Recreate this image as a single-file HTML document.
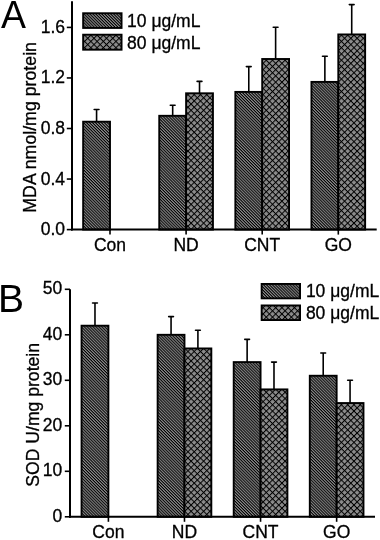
<!DOCTYPE html>
<html><head><meta charset="utf-8"><style>
html,body{margin:0;padding:0;background:#fff;}
body{width:380px;height:540px;overflow:hidden;}
svg{display:block;filter:grayscale(1);}
text{font-family:"Liberation Sans", sans-serif;fill:#000;stroke:#000;stroke-width:0.3px;}
</style></head><body>
<svg width="380" height="540" viewBox="0 0 380 540">
<defs>
<pattern id="ph" patternUnits="userSpaceOnUse" width="2.086" height="2.086" patternTransform="rotate(45)">
<rect width="2.086" height="2.086" fill="#8c8c8c"/><rect width="2.086" height="1.0" fill="#000"/>
</pattern>
<pattern id="pc" patternUnits="userSpaceOnUse" width="4.43" height="4.43" patternTransform="rotate(45)">
<rect width="4.43" height="4.43" fill="#8c8c8c"/><rect width="4.43" height="1.0" fill="#000"/><rect width="1.0" height="4.43" fill="#000"/>
</pattern>
</defs>
<rect width="380" height="540" fill="#fff"/>
<rect x="83.15" y="121.70" width="26.85" height="107.90" fill="url(#ph)" stroke="#000" stroke-width="1.9"/>
<line x1="96.58" y1="121.70" x2="96.58" y2="109.50" stroke="#000" stroke-width="1.6"/>
<line x1="94.17" y1="109.50" x2="98.98" y2="109.50" stroke="#000" stroke-width="1.6" stroke-linecap="round"/>
<rect x="159.25" y="115.80" width="26.85" height="113.80" fill="url(#ph)" stroke="#000" stroke-width="1.9"/>
<line x1="172.68" y1="115.80" x2="172.68" y2="105.30" stroke="#000" stroke-width="1.6"/>
<line x1="170.28" y1="105.30" x2="175.08" y2="105.30" stroke="#000" stroke-width="1.6" stroke-linecap="round"/>
<rect x="186.10" y="93.30" width="26.85" height="136.30" fill="url(#pc)" stroke="#000" stroke-width="1.9"/>
<line x1="199.52" y1="93.30" x2="199.52" y2="81.40" stroke="#000" stroke-width="1.6"/>
<line x1="197.12" y1="81.40" x2="201.92" y2="81.40" stroke="#000" stroke-width="1.6" stroke-linecap="round"/>
<rect x="235.35" y="91.90" width="26.85" height="137.70" fill="url(#ph)" stroke="#000" stroke-width="1.9"/>
<line x1="248.77" y1="91.90" x2="248.77" y2="66.60" stroke="#000" stroke-width="1.6"/>
<line x1="246.37" y1="66.60" x2="251.17" y2="66.60" stroke="#000" stroke-width="1.6" stroke-linecap="round"/>
<rect x="262.20" y="59.00" width="26.85" height="170.60" fill="url(#pc)" stroke="#000" stroke-width="1.9"/>
<line x1="275.62" y1="59.00" x2="275.62" y2="27.20" stroke="#000" stroke-width="1.6"/>
<line x1="273.23" y1="27.20" x2="278.02" y2="27.20" stroke="#000" stroke-width="1.6" stroke-linecap="round"/>
<rect x="311.45" y="81.90" width="26.85" height="147.70" fill="url(#ph)" stroke="#000" stroke-width="1.9"/>
<line x1="324.87" y1="81.90" x2="324.87" y2="56.20" stroke="#000" stroke-width="1.6"/>
<line x1="322.47" y1="56.20" x2="327.27" y2="56.20" stroke="#000" stroke-width="1.6" stroke-linecap="round"/>
<rect x="338.30" y="34.45" width="26.85" height="195.15" fill="url(#pc)" stroke="#000" stroke-width="1.9"/>
<line x1="351.72" y1="34.45" x2="351.72" y2="4.60" stroke="#000" stroke-width="1.6"/>
<line x1="349.32" y1="4.60" x2="354.12" y2="4.60" stroke="#000" stroke-width="1.6" stroke-linecap="round"/>
<line x1="72" y1="1.3" x2="72" y2="230.6" stroke="#000" stroke-width="2.0"/>
<line x1="71.0" y1="229.6" x2="376.7" y2="229.6" stroke="#000" stroke-width="2.0"/>
<line x1="66.8" y1="229.60" x2="72" y2="229.60" stroke="#000" stroke-width="1.6"/>
<text x="65.0" y="235.10" text-anchor="end" font-size="17.5">0.0</text>
<line x1="66.8" y1="179.05" x2="72" y2="179.05" stroke="#000" stroke-width="1.6"/>
<text x="65.0" y="184.55" text-anchor="end" font-size="17.5">0.4</text>
<line x1="66.8" y1="128.50" x2="72" y2="128.50" stroke="#000" stroke-width="1.6"/>
<text x="65.0" y="134.00" text-anchor="end" font-size="17.5">0.8</text>
<line x1="66.8" y1="77.95" x2="72" y2="77.95" stroke="#000" stroke-width="1.6"/>
<text x="65.0" y="83.45" text-anchor="end" font-size="17.5">1.2</text>
<line x1="66.8" y1="27.40" x2="72" y2="27.40" stroke="#000" stroke-width="1.6"/>
<text x="65.0" y="32.90" text-anchor="end" font-size="17.5">1.6</text>
<line x1="110.00" y1="229.6" x2="110.00" y2="234.60" stroke="#000" stroke-width="1.6"/>
<text x="110.00" y="250.5" text-anchor="middle" font-size="17.5">Con</text>
<line x1="186.10" y1="229.6" x2="186.10" y2="234.60" stroke="#000" stroke-width="1.6"/>
<text x="186.10" y="250.5" text-anchor="middle" font-size="17.5">ND</text>
<line x1="262.20" y1="229.6" x2="262.20" y2="234.60" stroke="#000" stroke-width="1.6"/>
<text x="262.20" y="250.5" text-anchor="middle" font-size="17.5">CNT</text>
<line x1="338.30" y1="229.6" x2="338.30" y2="234.60" stroke="#000" stroke-width="1.6"/>
<text x="338.30" y="250.5" text-anchor="middle" font-size="17.5">GO</text>
<rect x="83.15" y="13.25" width="38.40" height="14.70" fill="url(#ph)" stroke="#000" stroke-width="1.9"/>
<text x="127.1" y="26.9" font-size="17.5">10 μg/mL</text>
<rect x="83.15" y="34.70" width="38.40" height="15.00" fill="url(#pc)" stroke="#000" stroke-width="1.9"/>
<text x="127.1" y="48.8" font-size="17.5">80 μg/mL</text>
<text transform="translate(1.1,27.9) scale(0.96,1)" x="0" y="0" font-size="39" style="stroke-width:0">A</text>
<text transform="translate(36.3,127.35) rotate(-90)" text-anchor="middle" font-size="17.75">MDA nmol/mg protein</text>
<rect x="81.55" y="325.70" width="26.85" height="191.10" fill="url(#ph)" stroke="#000" stroke-width="1.9"/>
<line x1="94.98" y1="325.70" x2="94.98" y2="302.95" stroke="#000" stroke-width="1.6"/>
<line x1="92.58" y1="302.95" x2="97.38" y2="302.95" stroke="#000" stroke-width="1.6" stroke-linecap="round"/>
<rect x="157.63" y="334.80" width="26.85" height="182.00" fill="url(#ph)" stroke="#000" stroke-width="1.9"/>
<line x1="171.06" y1="334.80" x2="171.06" y2="316.60" stroke="#000" stroke-width="1.6"/>
<line x1="168.66" y1="316.60" x2="173.46" y2="316.60" stroke="#000" stroke-width="1.6" stroke-linecap="round"/>
<rect x="184.48" y="348.45" width="26.85" height="168.35" fill="url(#pc)" stroke="#000" stroke-width="1.9"/>
<line x1="197.91" y1="348.45" x2="197.91" y2="330.25" stroke="#000" stroke-width="1.6"/>
<line x1="195.51" y1="330.25" x2="200.31" y2="330.25" stroke="#000" stroke-width="1.6" stroke-linecap="round"/>
<rect x="233.71" y="362.10" width="26.85" height="154.70" fill="url(#ph)" stroke="#000" stroke-width="1.9"/>
<line x1="247.13" y1="362.10" x2="247.13" y2="339.35" stroke="#000" stroke-width="1.6"/>
<line x1="244.73" y1="339.35" x2="249.53" y2="339.35" stroke="#000" stroke-width="1.6" stroke-linecap="round"/>
<rect x="260.56" y="389.40" width="26.85" height="127.40" fill="url(#pc)" stroke="#000" stroke-width="1.9"/>
<line x1="273.99" y1="389.40" x2="273.99" y2="362.10" stroke="#000" stroke-width="1.6"/>
<line x1="271.59" y1="362.10" x2="276.38" y2="362.10" stroke="#000" stroke-width="1.6" stroke-linecap="round"/>
<rect x="309.79" y="375.75" width="26.85" height="141.05" fill="url(#ph)" stroke="#000" stroke-width="1.9"/>
<line x1="323.21" y1="375.75" x2="323.21" y2="353.00" stroke="#000" stroke-width="1.6"/>
<line x1="320.81" y1="353.00" x2="325.61" y2="353.00" stroke="#000" stroke-width="1.6" stroke-linecap="round"/>
<rect x="336.64" y="403.05" width="26.85" height="113.75" fill="url(#pc)" stroke="#000" stroke-width="1.9"/>
<line x1="350.06" y1="403.05" x2="350.06" y2="380.30" stroke="#000" stroke-width="1.6"/>
<line x1="347.67" y1="380.30" x2="352.46" y2="380.30" stroke="#000" stroke-width="1.6" stroke-linecap="round"/>
<line x1="70" y1="289.3" x2="70" y2="517.8" stroke="#000" stroke-width="2.0"/>
<line x1="69.0" y1="516.8" x2="375" y2="516.8" stroke="#000" stroke-width="2.0"/>
<line x1="64.8" y1="516.80" x2="70" y2="516.80" stroke="#000" stroke-width="1.6"/>
<text x="62.3" y="521.90" text-anchor="end" font-size="17.5">0</text>
<line x1="64.8" y1="471.30" x2="70" y2="471.30" stroke="#000" stroke-width="1.6"/>
<text x="62.3" y="476.40" text-anchor="end" font-size="17.5">10</text>
<line x1="64.8" y1="425.80" x2="70" y2="425.80" stroke="#000" stroke-width="1.6"/>
<text x="62.3" y="430.90" text-anchor="end" font-size="17.5">20</text>
<line x1="64.8" y1="380.30" x2="70" y2="380.30" stroke="#000" stroke-width="1.6"/>
<text x="62.3" y="385.40" text-anchor="end" font-size="17.5">30</text>
<line x1="64.8" y1="334.80" x2="70" y2="334.80" stroke="#000" stroke-width="1.6"/>
<text x="62.3" y="339.90" text-anchor="end" font-size="17.5">40</text>
<line x1="64.8" y1="289.30" x2="70" y2="289.30" stroke="#000" stroke-width="1.6"/>
<text x="62.3" y="294.40" text-anchor="end" font-size="17.5">50</text>
<line x1="108.40" y1="516.8" x2="108.40" y2="521.80" stroke="#000" stroke-width="1.6"/>
<text x="108.40" y="537.9" text-anchor="middle" font-size="17.5">Con</text>
<line x1="184.48" y1="516.8" x2="184.48" y2="521.80" stroke="#000" stroke-width="1.6"/>
<text x="184.48" y="537.9" text-anchor="middle" font-size="17.5">ND</text>
<line x1="260.56" y1="516.8" x2="260.56" y2="521.80" stroke="#000" stroke-width="1.6"/>
<text x="260.56" y="537.9" text-anchor="middle" font-size="17.5">CNT</text>
<line x1="336.64" y1="516.8" x2="336.64" y2="521.80" stroke="#000" stroke-width="1.6"/>
<text x="336.64" y="537.9" text-anchor="middle" font-size="17.5">GO</text>
<rect x="261.65" y="283.95" width="38.40" height="14.40" fill="url(#ph)" stroke="#000" stroke-width="1.9"/>
<text x="305.9" y="297.3" font-size="17.5">10 μg/mL</text>
<rect x="261.65" y="305.45" width="38.40" height="14.60" fill="url(#pc)" stroke="#000" stroke-width="1.9"/>
<text x="305.9" y="318.9" font-size="17.5">80 μg/mL</text>
<text transform="translate(-2,311.8) scale(1.0,1)" x="0" y="0" font-size="39" style="stroke-width:0">B</text>
<text transform="translate(39.3,414.85) rotate(-90)" text-anchor="middle" font-size="17.6">SOD U/mg protein</text>
</svg>
</body></html>
